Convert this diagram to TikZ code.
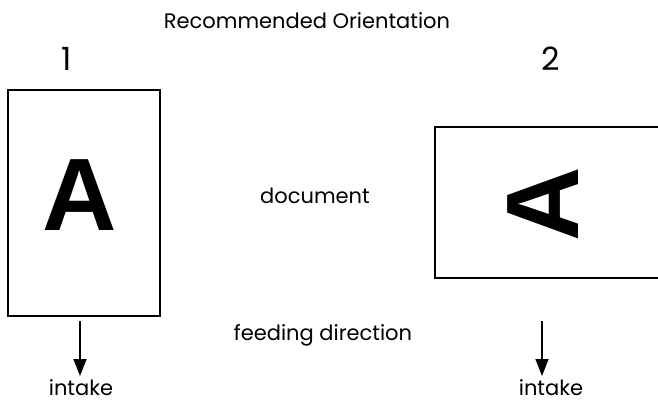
\documentclass[tikz,border=0pt]{standalone}
\usepackage{fontspec}
\setmainfont{Poppins}
\newfontfamily\bigA{Liberation Sans}
\usetikzlibrary{arrows.meta}
\begin{document}
\begin{tikzpicture}[x=1pt,y=-1pt,
  page/.style={draw=black,line width=2pt},
  lbl/.style={inner sep=0pt,font=\fontsize{21}{25}\selectfont},
  num/.style={inner sep=0pt,font=\fontsize{32}{38}\selectfont},
  bigletter/.style={inner sep=0pt,font=\bigA\bfseries\fontsize{103}{103}\selectfont},
  feed/.style={line width=1.6pt,-{Triangle[length=17pt,width=13pt]}}]
\useasboundingbox (0,0) rectangle (658,401);
\node[lbl] (title) at (307,21) {Recommended Orientation};
\node[num] (n1) at (67,59) {1};
\node[num] (n2) at (551,59) {2};
\draw[page] (8,90) rectangle (160,316);
\node[bigletter] (A1) at (80,195) {A};
\draw[page] (670,127) -- (435,127) -- (435,278) -- (670,278);
\node[bigletter,rotate=90] (A2) at (543,204) {A};
\node[lbl] (doc) at (315,196) {document};
\node[lbl] (feedtxt) at (323,335) {feeding direction};
\coordinate (s1) at (80,321);
\coordinate (e1) at (80,376);
\coordinate (s2) at (542,321);
\coordinate (e2) at (542,376);
\draw[feed] (s1) -- (e1);
\draw[feed] (s2) -- (e2);
\node[lbl,anchor=base] (in1) at (81,395) {intake};
\node[lbl,anchor=base] (in2) at (551,395) {intake};
\end{tikzpicture}
\end{document}
